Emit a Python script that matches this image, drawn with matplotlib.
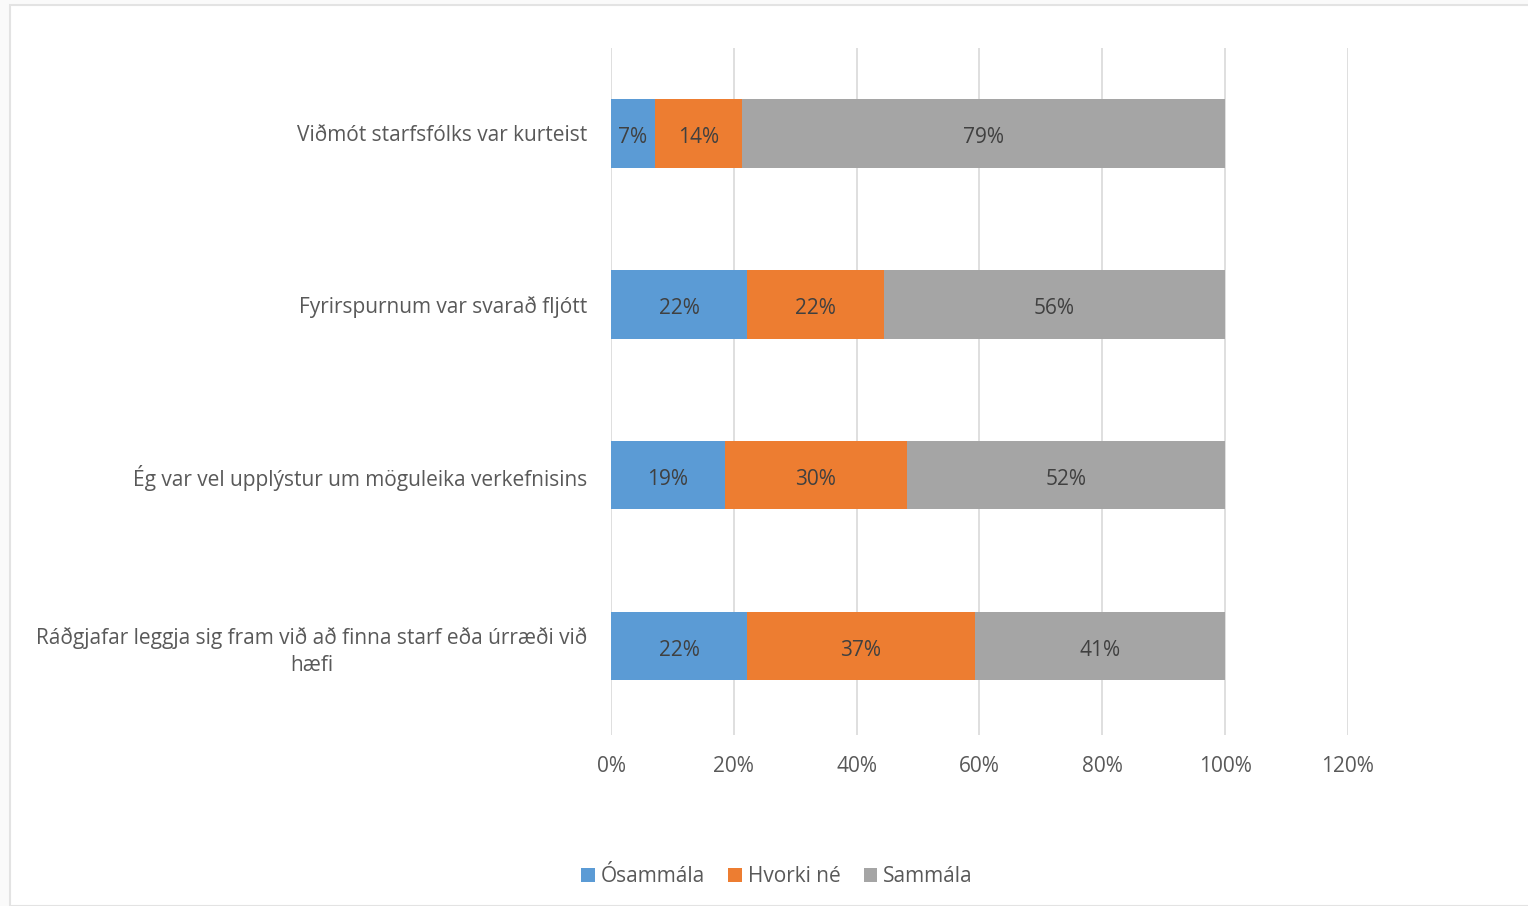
import matplotlib.pyplot as plt
import numpy as np
from matplotlib.patches import Rectangle

plt.rcParams['font.family'] = ['Open Sans', 'DejaVu Sans']

categories = [
    "Viðmót starfsfólks var kurteist",
    "Fyrirspurnum var svarað fljótt",
    "Ég var vel upplýstur um möguleika verkefnisins",
    "Ráðgjafar leggja sig fram við að finna starf eða úrræði við\nhæfi",
]
osammala = [0.071, 0.222, 0.1852, 0.222]
hvorki = [0.143, 0.222, 0.2963, 0.370]
sammala = [0.786, 0.556, 0.5185, 0.407]
series_names = ["Ósammála", "Hvorki né", "Sammála"]
colors = ["#5B9BD5", "#ED7D31", "#A5A5A5"]
text_color = "#595959"

fig = plt.figure(figsize=(15.28, 9.06), dpi=100)
fig.patch.set_facecolor("#FAFAFA")
# white chart area with light frame
fig.patches.append(Rectangle((10 / 1528, 0), 1.0, 1 - 5 / 906, transform=fig.transFigure,
                             facecolor="white", edgecolor="#E3E3E3", linewidth=1.5, zorder=-10))

ax = fig.add_axes([611 / 1528, 1 - 735 / 906, (1348 - 611) / 1528, (735 - 48) / 906])
ax.set_facecolor("none")

y = np.arange(len(categories))
left = np.zeros(len(categories))
for name, vals, col in zip(series_names, [osammala, hvorki, sammala], colors):
    vals = np.array(vals)
    ax.barh(y, vals, left=left, height=0.4, color=col, label=name, zorder=2)
    for yi, l, v in zip(y, left, vals):
        ax.text(l + v / 2, yi + 0.01, f"{v * 100:.0f}%", ha="center", va="center_baseline",
                fontsize=15, color="#404040", zorder=3)
    left += vals

ax.set_xlim(0, 1.2)
ax.set_ylim(3.52, -0.5)
ticks = np.arange(0, 1.21, 0.2)
ax.set_xticks(ticks)
ax.set_xticklabels([f"{int(round(t * 100))}%" for t in ticks])
ax.set_yticks(y)
ax.set_yticklabels(categories)
for lab in ax.get_yticklabels():
    lab.set_multialignment("center")
    lab.set_linespacing(1.35)
ax.tick_params(axis="both", length=0, labelsize=15, colors=text_color)
ax.tick_params(axis="x", pad=15)
ax.tick_params(axis="y", pad=17)
ax.grid(axis="x", color="#D9D9D9", linewidth=1.2, zorder=0)
for s in ax.spines.values():
    s.set_visible(False)

ax.legend(loc="center", bbox_to_anchor=(777 / 1528, 1 - 877 / 906), bbox_transform=fig.transFigure,
          ncol=3, frameon=False, fontsize=15, labelcolor=text_color,
          handlelength=0.65, handleheight=0.65, handletextpad=0.3, columnspacing=1.1)

fig.savefig("out.png", dpi=100, facecolor=fig.get_facecolor())
